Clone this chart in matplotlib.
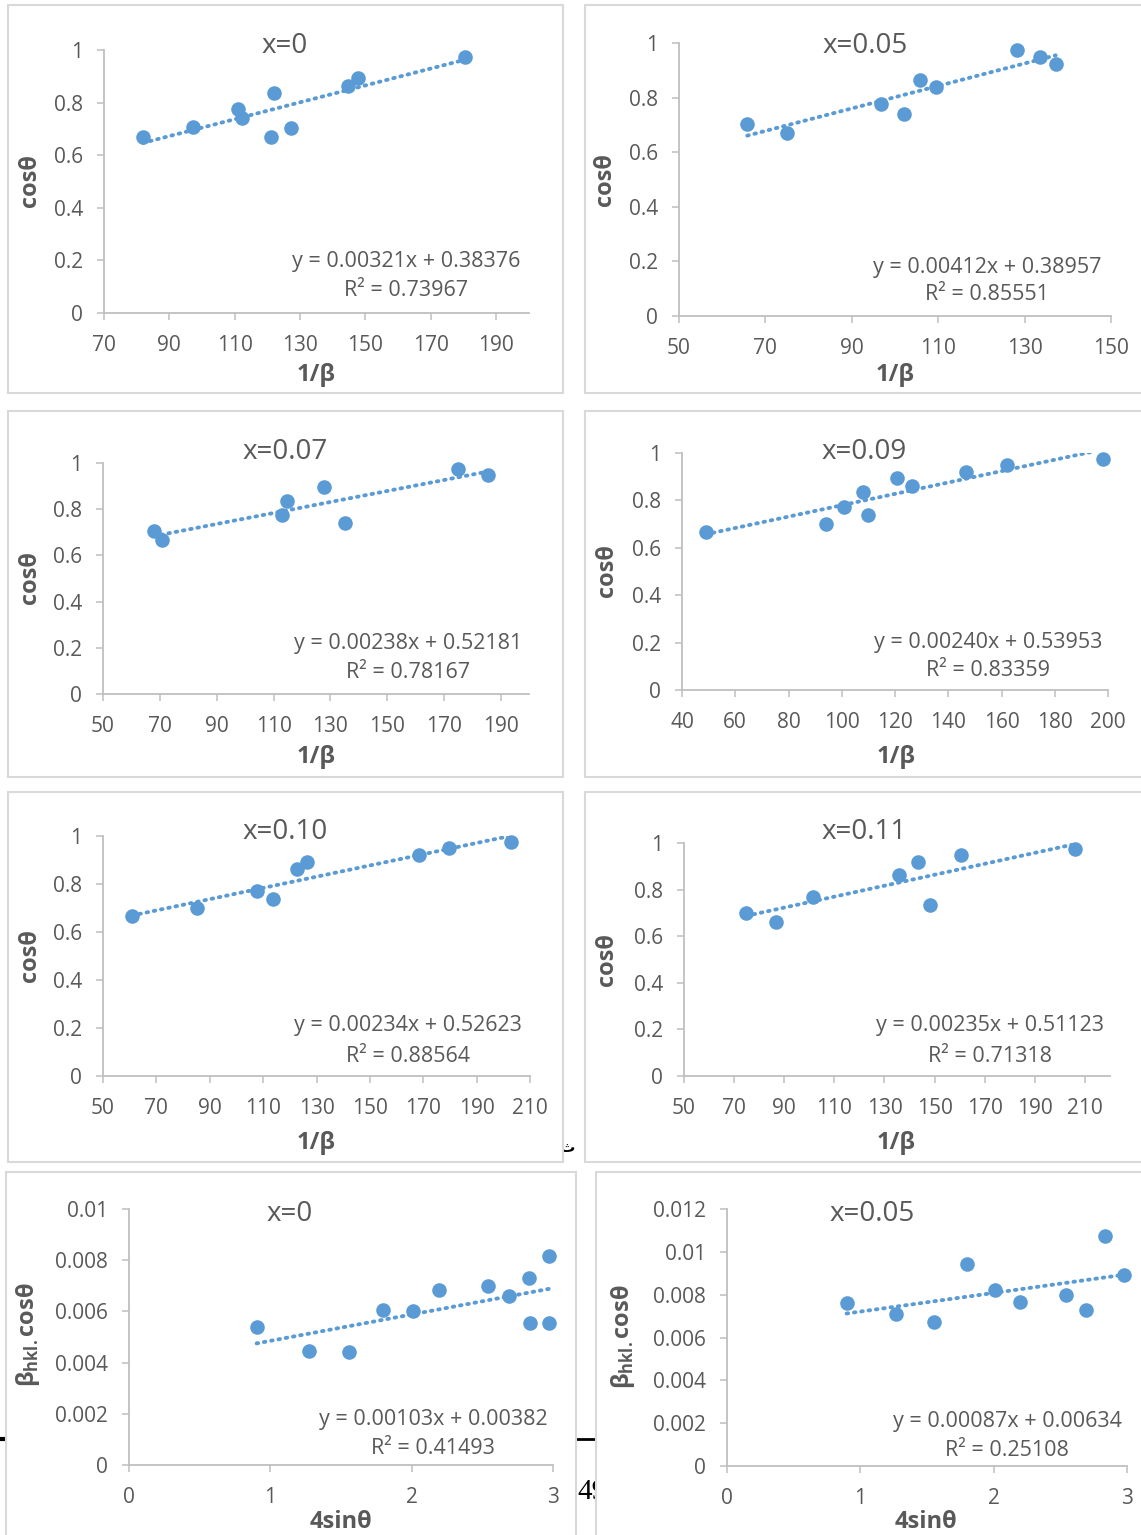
import matplotlib
matplotlib.use("Agg")
import matplotlib.pyplot as plt
from matplotlib.patches import Rectangle
from matplotlib.lines import Line2D
from matplotlib.ticker import FixedLocator, FixedFormatter
import numpy as np

plt.rcParams['font.family'] = ['Open Sans', 'DejaVu Sans']
plt.rcParams['mathtext.fontset'] = 'custom'
plt.rcParams['mathtext.rm'] = 'Open Sans'
plt.rcParams['mathtext.bf'] = 'Open Sans:bold'

# ---------------- data ----------------
titles = ["x=0", "x=0.05", "x=0.07", "x=0.09", "x=0.10", "x=0.11", "x=0", "x=0.05"]

x1 = [81.9, 97.1, 110.9, 112.2, 122.0, 121.1, 127.3, 144.6, 147.8, 180.5]
y1 = [0.671, 0.709, 0.775, 0.741, 0.836, 0.671, 0.705, 0.865, 0.895, 0.975]

x2 = [65.8, 75.1, 96.7, 102.1, 105.7, 109.5, 128.2, 133.5, 137.2]
y2 = [0.705, 0.669, 0.775, 0.741, 0.866, 0.837, 0.976, 0.949, 0.922]

x3 = [67.9, 70.8, 113.1, 114.9, 127.8, 135.3, 174.8, 185.5]
y3 = [0.705, 0.667, 0.773, 0.836, 0.894, 0.739, 0.976, 0.950]

x4 = [48.9, 94.0, 101.0, 107.9, 110.0, 120.6, 126.5, 146.8, 162.2, 198.1]
y4 = [0.665, 0.702, 0.772, 0.834, 0.738, 0.893, 0.862, 0.921, 0.948, 0.973]

x5 = [60.9, 85.3, 107.6, 113.6, 122.7, 126.5, 168.4, 179.5, 202.7]
y5 = [0.665, 0.702, 0.771, 0.737, 0.863, 0.893, 0.922, 0.950, 0.975]

x6 = [74.9, 86.8, 101.6, 135.7, 143.5, 148.0, 160.7, 206.2]
y6 = [0.700, 0.663, 0.769, 0.864, 0.920, 0.736, 0.947, 0.974]

x7 = [0.903, 1.271, 1.559, 1.796, 2.009, 2.196, 2.537, 2.691, 2.827, 2.840, 2.971, 2.971]
y7 = [0.00541, 0.00445, 0.00442, 0.00606, 0.00600, 0.00684, 0.00699, 0.00661, 0.00730, 0.00555, 0.00817, 0.00555]

x8 = [0.897, 1.270, 1.554, 1.797, 2.010, 2.199, 2.539, 2.691, 2.837, 2.978]
y8 = [0.00760, 0.00712, 0.00671, 0.00944, 0.00822, 0.00766, 0.00800, 0.00727, 0.01074, 0.00891]

slopes = [0.00321, 0.00412, 0.00238, 0.00240, 0.00234, 0.00235, 0.00103, 0.00087]
intercepts = [0.38376, 0.38957, 0.52181, 0.53953, 0.52623, 0.51123, 0.00382, 0.00634]
eq_texts = ["y = 0.00321x + 0.38376", "y = 0.00412x + 0.38957", "y = 0.00238x + 0.52181",
            "y = 0.00240x + 0.53953", "y = 0.00234x + 0.52623", "y = 0.00235x + 0.51123",
            "y = 0.00103x + 0.00382", "y = 0.00087x + 0.00634"]
r2_texts = ["R² = 0.73967", "R² = 0.85551", "R² = 0.78167", "R² = 0.83359",
            "R² = 0.88564", "R² = 0.71318", "R² = 0.41493", "R² = 0.25108"]

xticks_list = [[70, 90, 110, 130, 150, 170, 190],
               [50, 70, 90, 110, 130, 150],
               [50, 70, 90, 110, 130, 150, 170, 190],
               [40, 60, 80, 100, 120, 140, 160, 180, 200],
               [50, 70, 90, 110, 130, 150, 170, 190, 210],
               [50, 70, 90, 110, 130, 150, 170, 190, 210],
               [0, 1, 2, 3],
               [0, 1, 2, 3]]
xlims = [(70, 200), (50, 150), (50, 200), (40, 200), (50, 210), (50, 220), (0, 3), (0, 3)]
yticks_cos = [0, 0.2, 0.4, 0.6, 0.8, 1.0]
ylabels_cos = ["0", "0.2", "0.4", "0.6", "0.8", "1"]
yticks_b0 = [0, 0.002, 0.004, 0.006, 0.008, 0.01]
ylabels_b0 = ["0", "0.002", "0.004", "0.006", "0.008", "0.01"]
yticks_b5 = [0, 0.002, 0.004, 0.006, 0.008, 0.01, 0.012]
ylabels_b5 = ["0", "0.002", "0.004", "0.006", "0.008", "0.01", "0.012"]

xs = [x1, x2, x3, x4, x5, x6, x7, x8]
ys = [y1, y2, y3, y4, y5, y6, y7, y8]

# ---------------- layout (pixels) ----------------
W, H = 1141, 1535
fig = plt.figure(figsize=(W / 100, H / 100), dpi=100)

def fx(x):
    return x / W

def fy(y):
    return 1 - y / H

def rect(l, t, r, b):
    return [l / W, 1 - b / H, (r - l) / W, (b - t) / H]

axes_px = [(104, 50, 528.7, 313), (679, 43, 1111, 316), (103, 463, 529.4, 694),
           (682, 453, 1108, 690), (103, 836, 530, 1076), (684, 843, 1110, 1076),
           (129, 1209, 553, 1465), (727, 1209, 1127, 1466)]
boxes = [(8, 5, 563, 393), (585, 5, 1143, 393), (8, 411, 563, 777), (585, 411, 1143, 777),
         (8, 792, 563, 1162), (585, 792, 1143, 1162), (6, 1172, 576, 1540), (596, 1172, 1143, 1540)]
title_pos = [(285, 46), (865, 46), (285, 452), (864, 452), (285, 832), (864, 832), (290, 1214), (872, 1214)]
eq_pos = [(406, 262, 291), (987, 267, 295), (408, 643, 673), (988, 642, 670),
          (408, 1026, 1056), (990, 1026, 1056), (433, 1420, 1448), (1007, 1421, 1450)]
ylab_pos = [(30, 181), (605, 180), (30, 578), (607, 571), (30, 956), (607, 960), (28, 1335), (623, 1337)]
xlab_pos = [(316, 375), (895, 375), (316, 757), (896, 757), (316, 1143), (896, 1143), (341, 1522), (926, 1522)]

TXT = "#595959"
BLUE = "#5B9BD5"
AX = "#BFBFBF"

# background artifacts from page
fig.text(fx(577), fy(1492), "49", family="Liberation Serif", fontsize=21, color="black",
         ha="left", va="center", zorder=-3)
fig.add_artist(Line2D([fx(570), fx(598)], [fy(1439), fy(1439)], color="black", lw=2, zorder=-3))
fig.add_artist(Line2D([fx(2), fx(7)], [fy(1439), fy(1439)], color="black", lw=3, zorder=-3))
fig.text(fx(568), fy(1148), "ث", family="DejaVu Sans", fontsize=11, fontweight="bold",
         color="black", ha="center", va="center", zorder=-3)

for i in range(8):
    l, t, r, b = boxes[i]
    fig.add_artist(Rectangle((fx(l), fy(b)), (r - l) / W, (b - t) / H, transform=fig.transFigure,
                             facecolor="white", edgecolor="#D9D9D9", lw=1.5, zorder=-2))

for i in range(8):
    ax = fig.add_axes(rect(*axes_px[i]))
    ax.set_facecolor("none")
    ax.set_zorder(1)
    x = np.array(xs[i])
    y = np.array(ys[i])
    xl = np.array([x.min(), x.max()])
    ax.plot(xl, slopes[i] * xl + intercepts[i], color=BLUE, lw=2.8,
            linestyle=(0, (0.4, 1.5)), dash_capstyle="round", zorder=2)
    ax.scatter(x, y, s=110, color=BLUE, zorder=3, clip_on=False, linewidths=0)
    ax.set_xlim(*xlims[i])
    if i < 6:
        ax.set_ylim(0, 1)
        ax.yaxis.set_major_locator(FixedLocator(yticks_cos))
        ax.yaxis.set_major_formatter(FixedFormatter(ylabels_cos))
    elif i == 6:
        ax.set_ylim(0, 0.01)
        ax.yaxis.set_major_locator(FixedLocator(yticks_b0))
        ax.yaxis.set_major_formatter(FixedFormatter(ylabels_b0))
    else:
        ax.set_ylim(0, 0.012)
        ax.yaxis.set_major_locator(FixedLocator(yticks_b5))
        ax.yaxis.set_major_formatter(FixedFormatter(ylabels_b5))
    ax.xaxis.set_major_locator(FixedLocator(xticks_list[i]))
    ax.xaxis.set_major_formatter(FixedFormatter([str(v) for v in xticks_list[i]]))
    for s in ["top", "right"]:
        ax.spines[s].set_visible(False)
    for s in ["left", "bottom"]:
        ax.spines[s].set_color(AX)
        ax.spines[s].set_linewidth(1.3)
    ax.tick_params(axis="both", direction="out", length=5, width=1.1, color=AX,
                   labelcolor=TXT, labelsize=15)
    ax.tick_params(axis="y", pad=10)
    ax.tick_params(axis="x", pad=11)

    tx, ty = title_pos[i]
    fig.text(fx(tx), fy(ty), titles[i], fontsize=20, color=TXT, ha="center", va="center")
    ex, ey1, ey2 = eq_pos[i]
    fig.text(fx(ex), fy(ey1), eq_texts[i], fontsize=15.5, color=TXT, ha="center", va="center")
    fig.text(fx(ex), fy(ey2), r2_texts[i], fontsize=15.5, color=TXT, ha="center", va="center")
    lx, ly = ylab_pos[i]
    if i < 6:
        ylab = "cosθ"
    else:
        ylab = "β$_{\\mathbf{hkl.}}$cosθ"
    fig.text(fx(lx), fy(ly), ylab, fontsize=17, fontweight="bold", color=TXT,
             rotation=90, ha="center", va="center")
    bx, by = xlab_pos[i]
    xlab = "1/β" if i < 6 else "4sinθ"
    fig.text(fx(bx), fy(by), xlab, fontsize=17, fontweight="bold", color=TXT,
             ha="center", va="center")

fig.savefig("out.png", dpi=100)
